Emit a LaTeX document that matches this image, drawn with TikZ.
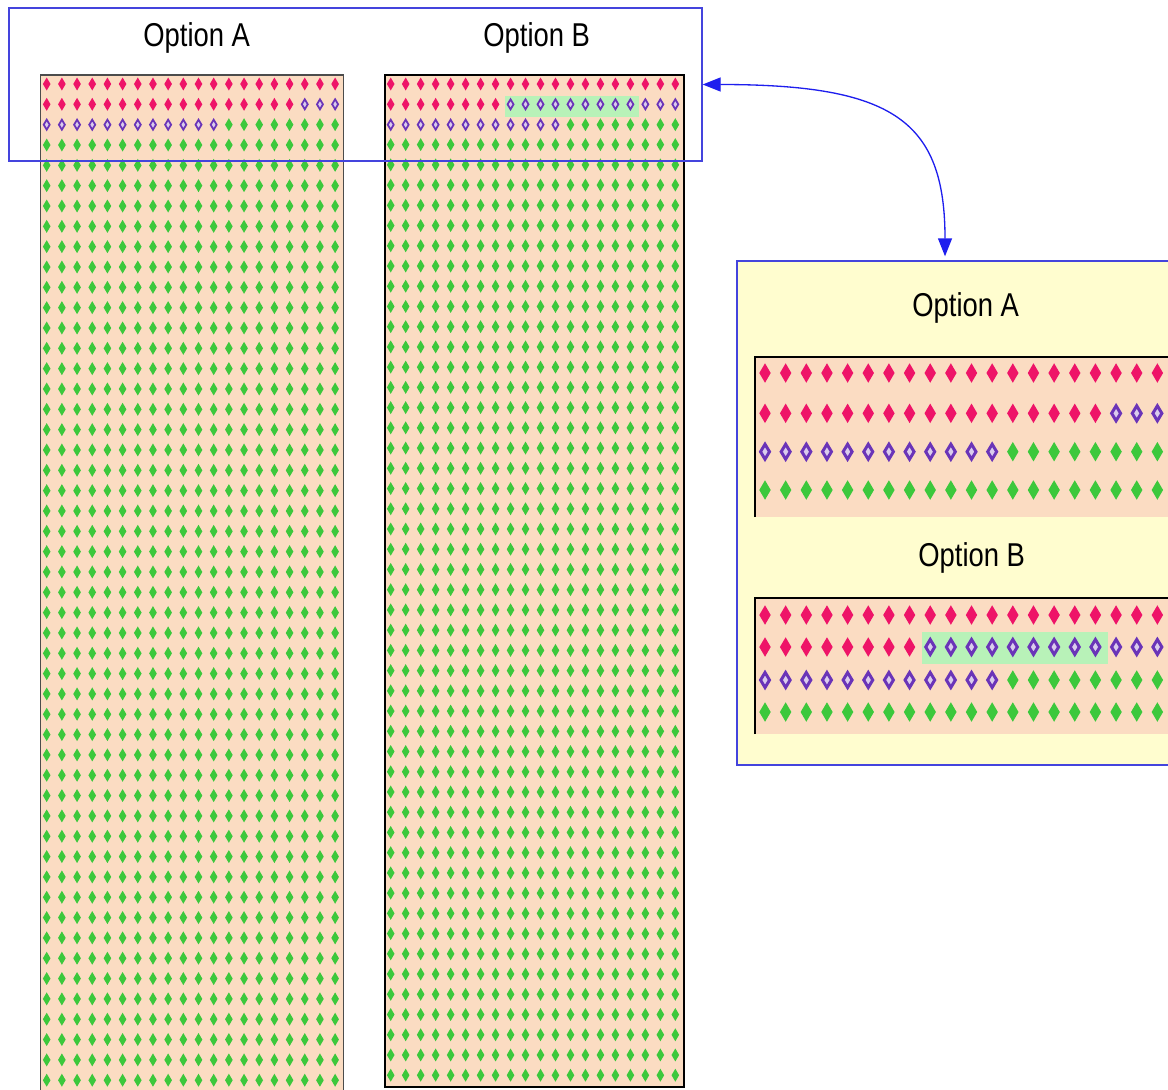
\documentclass[tikz,border=0pt]{standalone}
\usepackage{fontspec}
\newfontfamily\titlefont[FakeStretch=0.83]{Liberation Sans}
\usetikzlibrary{arrows.meta,fit}

\definecolor{gemred}{HTML}{EE1468}
\definecolor{gemgreen}{HTML}{3CC83C}
\definecolor{gempurple}{HTML}{6A34B8}
\definecolor{peach}{HTML}{FBDCC2}
\definecolor{mint}{HTML}{B8F2B8}
\definecolor{cream}{HTML}{FFFDCF}
\definecolor{frameblue}{HTML}{4444DD}
\definecolor{linkblue}{HTML}{1E1EEE}

\tikzset{
	gem/.pic={\path[pic actions] (0,-6.5) -- (3.8,0) -- (0,6.5) -- (-3.8,0) -- cycle;},
	ring/.pic={\path[pic actions] (0,-5) -- (3,0) -- (0,5) -- (-3,0) -- cycle;},
	redgem/.style={fill=gemred},
	greengem/.style={fill=gemgreen},
	purplegem/.style={draw=gempurple, fill=gempurple!25, line width=1pt},
	bigpurple/.style={draw=gempurple, fill=gempurple!25, line width=1.7pt, scale=1.5},
	blueframe/.style={draw=frameblue, line width=0.75pt, inner sep=0pt},
	title/.style={font=\titlefont\fontsize{18.8}{20}\selectfont, anchor=base, inner sep=0pt},
	edgeA/.style={draw=black!70, line width=0.8pt},
	edgeB/.style={draw=black, line width=1.1pt},
	link/.style={draw=linkblue, line width=0.75pt, {Triangle[length=0.36cm,width=0.28cm]}-{Triangle[length=0.36cm,width=0.28cm]}}
}

% #1 pic, #2 style, #3 first x, #4 step, #5 y, #6..#7 range
\newcommand\gemrun[7]{\foreach \c in {#6,...,#7}{\pic[#2] at ({#3+#4*(\c-1)},{#5}) {#1};}}

\begin{document}
\begin{tikzpicture}[x=0.02cm,y=-0.02cm]
	
	\clip (0,0) rectangle (1168,1089);
	\fill[white] (0,0) rectangle (1168,1089);
	
	% option A column
	\fill[peach] (40.7,75) rectangle (343.3,1100);
	\draw[edgeA] (40.7,1100) |- (343.3,75) -- (343.3,1100);
	\gemrun{gem}{redgem}{46.7}{15.18}{84}{1}{20}
	\gemrun{gem}{redgem}{46.7}{15.18}{104.3}{1}{17}
	\gemrun{ring}{purplegem}{46.7}{15.18}{104.3}{18}{20}
	\gemrun{ring}{purplegem}{46.7}{15.18}{124.7}{1}{12}
	\gemrun{gem}{greengem}{46.7}{15.18}{124.7}{13}{20}
	\foreach \r in {4,...,50}
		{\gemrun{gem}{greengem}{46.7}{15.18}{63.7+20.33*\r}{1}{20}}
	
	% option B column
	\fill[peach] (385,75) rectangle (684,1087);
	\fill[mint] (505,96) rectangle (639,117);
	\gemrun{gem}{redgem}{390.7}{14.98}{84}{1}{20}
	\gemrun{gem}{redgem}{390.7}{14.98}{104.3}{1}{8}
	\gemrun{ring}{purplegem}{390.7}{14.98}{104.3}{9}{20}
	\gemrun{ring}{purplegem}{390.7}{14.98}{124.7}{1}{12}
	\gemrun{gem}{greengem}{390.7}{14.98}{124.7}{13}{20}
	\foreach \r in {4,...,50}
		{\gemrun{gem}{greengem}{390.7}{14.98}{63.7+20.23*\r}{1}{20}}
	\draw[edgeB] (385,75) rectangle (684,1087);
	\draw[edgeB, line width=1.6pt] (385,1087) -- (684,1087);
	
	\node[blueframe, fit={(9,8) (702,161)}] (top) {};
	\node[title] (ta) at (196.7,46) {Option A};
	\node[title] (tb) at (536.7,46) {Option B};
	
	% zoomed view
	\node[blueframe, fill=cream, fit={(737,261) (1200,765)}] (zoom) {};
	\node[title] (za) at (965.7,316.7) {Option A};
	\node[title] (zb) at (971.7,566.7) {Option B};
	
	\fill[peach] (755,357) rectangle (1200,517);
	\draw[edgeB] (755,517) |- (1200,357);
	\gemrun{gem}{redgem,scale=1.5}{765}{20.65}{373}{1}{20}
	\gemrun{gem}{redgem,scale=1.5}{765}{20.65}{413.3}{1}{17}
	\gemrun{ring}{bigpurple}{765}{20.65}{413.3}{18}{20}
	\gemrun{ring}{bigpurple}{765}{20.65}{451.7}{1}{12}
	\gemrun{gem}{greengem,scale=1.5}{765}{20.65}{451.7}{13}{20}
	\gemrun{gem}{greengem,scale=1.5}{765}{20.65}{490}{1}{20}
	
	\fill[peach] (755,598) rectangle (1200,734);
	\fill[mint] (921.7,631.7) rectangle (1108,664);
	\draw[edgeB] (755,734) |- (1200,598);
	\gemrun{gem}{redgem,scale=1.5}{765}{20.65}{615}{1}{20}
	\gemrun{gem}{redgem,scale=1.5}{765}{20.65}{647}{1}{8}
	\gemrun{ring}{bigpurple}{765}{20.65}{647}{9}{20}
	\gemrun{ring}{bigpurple}{765}{20.65}{680}{1}{12}
	\gemrun{gem}{greengem,scale=1.5}{765}{20.65}{680}{13}{20}
	\gemrun{gem}{greengem,scale=1.5}{765}{20.65}{712}{1}{20}
	
	\draw[link, shorten >=0.08cm] (top.east) .. controls +(190,0) and +(0,-140) .. ([xshift=-0.47cm]zoom.north);
	
\end{tikzpicture}
\end{document}
